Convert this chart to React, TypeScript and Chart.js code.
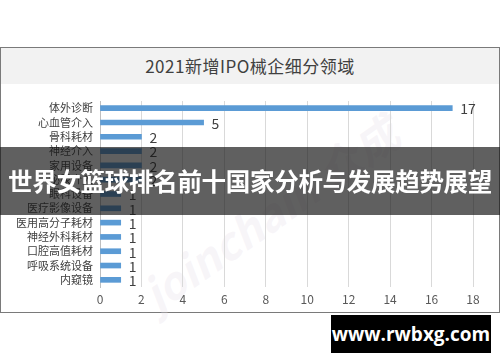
import React, { useEffect, useRef } from 'react';
import { Chart, registerables } from 'chart.js';

Chart.register(...registerables);

const TITLE = '2021新增IPO械企细分领域';
const categories = [
  '体外诊断',
  '心血管介入',
  '骨科耗材',
  '神经介入',
  '家用设备',
  '泌尿介入',
  '眼科设备',
  '医疗影像设备',
  '医用高分子耗材',
  '神经外科耗材',
  '口腔高值耗材',
  '呼吸系统设备',
  '内窥镜',
];
const values = [17, 5, 2, 2, 2, 2, 1, 1, 1, 1, 1, 1, 1];
const xMin = 0;
const xMax = 18;
const xStep = 2;
const BANNER = '世界女篮球排名前十国家分析与发展趋势展望';
const SITE = 'www.rwbxg.com';

const FONT = '"Noto Sans CJK SC", "Noto Sans", sans-serif';

const valueLabels = {
  id: 'valueLabels',
  afterDatasetsDraw(chart: any) {
    const ctx = chart.ctx;
    const meta = chart.getDatasetMeta(0);
    ctx.save();
    ctx.font = `14px ${FONT}`;
    ctx.fillStyle = '#404040';
    ctx.textBaseline = 'middle';
    ctx.textAlign = 'left';
    meta.data.forEach((bar: any, i: number) => {
      ctx.fillText(String(values[i]), bar.x + 8, bar.y + 1);
    });
    ctx.restore();
  },
};

export default function App() {
  const ref = useRef<HTMLCanvasElement | null>(null);

  useEffect(() => {
    if (!ref.current) return;
    const chart = new Chart(ref.current, {
      type: 'bar',
      data: {
        labels: categories,
        datasets: [
          {
            data: values,
            backgroundColor: '#5b9bd5',
            barThickness: 5,
          },
        ],
      },
      options: {
        indexAxis: 'y',
        animation: false,
        responsive: false,
        layout: { padding: { left: 0, right: 27, top: 101, bottom: 53 } },
        plugins: {
          legend: { display: false },
          tooltip: { enabled: false },
          title: { display: false },
        },
        scales: {
          x: {
            min: xMin,
            max: xMax,
            ticks: {
              stepSize: xStep,
              color: '#595959',
              font: { family: FONT, size: 12 },
              padding: 5,
            },
            grid: { color: '#d9d9d9', drawTicks: false },
            border: { display: false },
            afterFit: (s: any) => {
              s.height = 22;
            },
          },
          y: {
            ticks: {
              color: '#404040',
              font: { family: FONT, size: 11 },
              padding: 7,
              autoSkip: false,
            },
            grid: { display: false, drawTicks: false },
            border: { display: true, color: '#bfbfbf' },
            afterFit: (s: any) => {
              s.width = 100;
            },
          },
        },
      },
      plugins: [valueLabels],
    });
    return () => chart.destroy();
  }, []);

  return (
    <div
      style={{
        position: 'fixed',
        left: 0,
        top: 0,
        width: 500,
        height: 362,
        background: '#ffffff',
        overflow: 'hidden',
        fontFamily: FONT,
      }}
    >
      <div
        style={{
          position: 'absolute',
          left: 0,
          top: 47,
          width: 498,
          height: 264,
          border: '1px solid #7a7a7a',
          background: '#ffffff',
        }}
      >
        <div
          style={{
            position: 'absolute',
            left: 0,
            top: 0,
            width: 498,
            height: 36,
            background: '#f2f2f2',
            color: '#404040',
            fontSize: 17,
            lineHeight: '36px',
            textAlign: 'center',
            letterSpacing: 0.5,
          }}
        >
          {TITLE}
        </div>
      </div>
      <div
        style={{
          position: 'absolute',
          left: 120,
          top: 180,
          fontSize: 44,
          fontWeight: 700,
          fontStyle: 'italic',
          color: 'rgba(230,222,232,0.3)',
          transform: 'rotate(-35deg)',
          whiteSpace: 'nowrap',
        }}
      >
        joinchain 众成
      </div>
      <canvas
        ref={ref}
        width={500}
        height={362}
        style={{ position: 'absolute', left: 0, top: 0, width: 500, height: 362 }}
      />
      <div
        style={{
          position: 'absolute',
          left: 0,
          top: 147,
          width: 500,
          height: 68,
          background: 'rgba(20,20,20,0.68)',
          color: '#ffffff',
          fontSize: 24.5,
          fontWeight: 700,
          lineHeight: '68px',
          textAlign: 'center',
          whiteSpace: 'nowrap',
          letterSpacing: -0.3,
        }}
      >
        {BANNER}
      </div>
      <div
        style={{
          position: 'absolute',
          left: 331,
          top: 315,
          width: 160,
          height: 38,
          background: '#000000',
          color: '#ffffff',
          fontSize: 19,
          fontWeight: 700,
          lineHeight: '38px',
          textAlign: 'center',
          fontFamily: '"Open Sans", "DejaVu Sans", sans-serif',
        }}
      >
        {SITE}
      </div>
    </div>
  );
}
